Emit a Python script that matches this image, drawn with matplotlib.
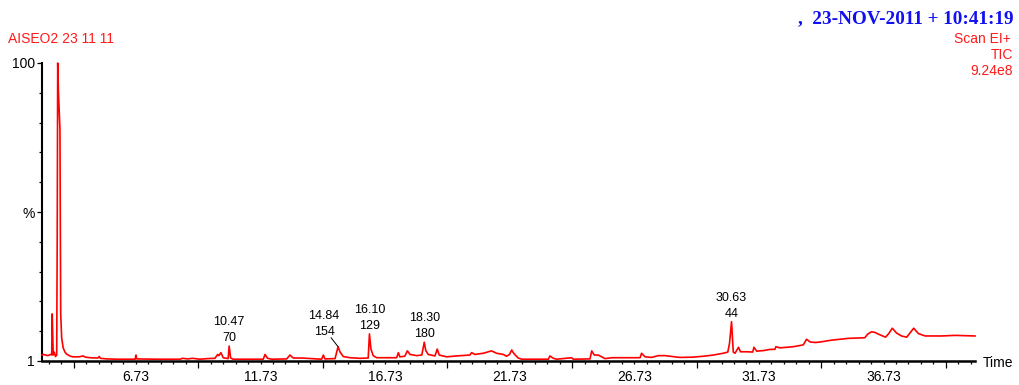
import numpy as np
import matplotlib
matplotlib.use('Agg')
import matplotlib.pyplot as plt

plt.rcParams['font.family'] = ['Liberation Sans', 'DejaVu Sans']

# TIC trace: retention time (min) vs relative abundance (%)
rt = [2.96, 3.01, 3.10, 3.20, 3.30, 3.35, 3.37, 3.39, 3.41, 3.45, 3.50, 3.55, 3.57, 3.59,
      3.62, 3.68, 3.71, 3.75, 3.81, 3.88, 3.95, 4.10, 4.21, 4.45, 4.61, 4.70, 4.88, 5.20,
      5.26, 5.30, 5.55, 6.00, 6.70, 6.73, 6.76, 7.50, 8.50, 8.60, 8.80, 9.00, 9.20, 9.30,
      9.60, 9.90, 10.01, 10.06, 10.14, 10.23, 10.43, 10.47, 10.53, 10.63, 11.84, 11.91,
      12.01, 12.18, 12.78, 12.91, 13.04, 13.38, 14.18, 14.25, 14.31, 14.72, 14.84, 14.92,
      15.05, 15.32, 15.72, 16.05, 16.10, 16.16, 16.25, 16.39, 17.19, 17.26, 17.32, 17.52,
      17.62, 17.73, 17.86, 18.00, 18.20, 18.30, 18.36, 18.46, 18.73, 18.82, 18.90, 19.20,
      19.60, 20.13, 20.20, 20.33, 20.67, 21.00, 21.20, 21.47, 21.60, 21.72, 21.81, 21.87,
      21.95, 22.07, 22.21, 23.28, 23.34, 23.48, 23.61, 24.21, 24.28, 24.95, 25.02, 25.12,
      25.28, 25.42, 25.55, 25.82, 26.96, 27.02, 27.16, 27.42, 27.69, 27.96, 28.16, 28.56,
      29.10, 29.50, 29.90, 30.30, 30.48, 30.55, 30.63, 30.67, 30.70, 30.77, 30.91, 30.99,
      31.24, 31.48, 31.53, 31.64, 31.91, 32.17, 32.37, 32.41, 32.57, 33.11, 33.51, 33.64,
      33.78, 34.00, 34.20, 34.65, 35.32, 35.98, 36.09, 36.25, 36.38, 36.58, 36.81, 36.94,
      37.08, 37.25, 37.45, 37.66, 37.79, 37.94, 38.13, 38.40, 39.06, 39.60, 40.40]
pct = [2.0, 2.2, 2.0, 1.8, 2.2, 2.0, 15.8, 9.0, 2.0, 3.0, 1.5, 2.0, 40.0, 100.0,
       90.0, 78.0, 16.0, 7.7, 4.4, 3.0, 2.3, 1.6, 1.4, 1.4, 1.7, 1.3, 1.1, 1.0,
       1.5, 0.9, 0.7, 0.6, 0.6, 2.0, 0.7, 0.6, 0.6, 0.9, 0.7, 0.9, 0.7, 0.6,
       0.8, 0.9, 2.2, 1.8, 2.8, 1.1, 0.8, 5.0, 1.0, 0.6, 0.6, 2.2,
       0.9, 0.6, 0.7, 2.0, 1.0, 1.0, 0.6, 2.0, 0.7, 0.8, 4.8, 3.0,
       1.5, 1.1, 0.9, 1.0, 9.1, 4.0, 1.8, 1.1, 1.1, 2.8, 1.4, 1.6,
       3.4, 2.2, 2.0, 1.8, 2.0, 6.3, 3.5, 2.2, 1.7, 4.0, 2.0, 1.4,
       1.7, 2.0, 2.8, 2.2, 2.6, 3.4, 2.6, 2.2, 1.6, 2.2, 3.7, 2.8,
       2.0, 1.0, 0.6, 0.6, 1.7, 0.9, 0.6, 1.1, 0.6, 0.7, 3.4, 2.0,
       2.0, 1.4, 0.8, 1.1, 1.1, 2.6, 1.4, 1.2, 1.8, 1.8, 1.6, 1.2,
       1.3, 1.6, 2.0, 2.6, 3.0, 6.0, 13.2, 7.0, 3.0, 2.6, 4.6, 3.1,
       3.1, 3.0, 4.6, 3.3, 3.5, 3.9, 3.9, 4.8, 4.4, 4.8, 5.4, 7.3,
       6.4, 6.2, 6.4, 7.0, 7.6, 7.8, 9.0, 9.8, 9.6, 8.8, 8.0, 9.2,
       11.0, 9.4, 8.4, 8.0, 9.4, 11.0, 9.2, 8.4, 8.4, 8.6, 8.4]

# labelled peaks: retention time, height (%), second label line
peak_rt = [10.47, 14.84, 16.10, 18.30, 30.63]
peak_pct = [5.0, 4.8, 9.1, 6.3, 13.2]
peak_num = ['70', '154', '129', '180', '44']

xtick_labels = ['6.73', '11.73', '16.73', '21.73', '26.73', '31.73', '36.73']

RED = '#ff1a1a'
fig = plt.figure(figsize=(10.19, 3.85), dpi=100)
ax = fig.add_axes([42 / 1019, 1 - 361 / 385, (975 - 42) / 1019, (361 - 63) / 385])

ax.plot(rt, pct, color='red', lw=1.2, clip_on=False, zorder=3)
ax.set_xlim(2.96, 40.40)
ax.set_ylim(0, 100)

for s in ('top', 'right'):
    ax.spines[s].set_visible(False)
ax.spines['left'].set_linewidth(1.5)
ax.spines['bottom'].set_linewidth(1.8)

# x axis: long ticks every 5 min, short every 0.5, labels in between
ax.set_xticks(4.23 + 5 * np.arange(8))
ax.set_xticks(np.arange(3.23, 40.4, 0.5), minor=True)
ax.tick_params(axis='x', which='major', length=5, width=0.9, labelbottom=False)
ax.tick_params(axis='x', which='minor', length=2.5, width=0.9)
for lab in xtick_labels:
    ax.annotate(lab, xy=(float(lab), 0), xycoords=('data', 'axes fraction'),
                xytext=(0, -9), textcoords='offset pixels', ha='center', va='top', fontsize=10)

ax.set_yticks([0, 50, 100])
ax.set_yticklabels(['1', '%', '100'])
ax.set_yticks(np.arange(0, 101, 10), minor=True)
ax.tick_params(axis='y', which='major', length=3.6, width=0.9, pad=1.5, labelsize=10)
ax.tick_params(axis='y', which='minor', length=2.2, width=0.9)

# peak labels
for t, v, n in zip(peak_rt, peak_pct, peak_num):
    dx = -14 if n == '154' else 0
    ax.annotate('%.2f' % t, xy=(t, v), xytext=(dx, 24 if n != '154' else 31),
                textcoords='offset pixels', ha='center', va='center', fontsize=9)
    ax.annotate(n, xy=(t, v), xytext=(dx, 8 if n != '154' else 15),
                textcoords='offset pixels', ha='center', va='center', fontsize=9)
ax.annotate('', xy=(14.84, 4.8), xytext=(-7, 9), textcoords='offset pixels', xycoords='data',
            arrowprops=dict(arrowstyle='-', color='black', lw=0.7, shrinkA=0, shrinkB=0))

fig.text(983 / 1019, 1 - 363 / 385, 'Time', ha='left', va='center', fontsize=10)

fig.text(8 / 1019, 1 - 39 / 385, 'AISEO2 23 11 11', color=RED, ha='left', va='center', fontsize=10)
fig.text(1013 / 1019, 1 - 19 / 385, ',  23-NOV-2011 + 10:41:19', color='#1010f0', ha='right',
         va='center', fontsize=13.8, fontweight='bold', family=['Liberation Serif', 'DejaVu Serif'])
fig.text(1011 / 1019, 1 - 39 / 385, 'Scan EI+', color=RED, ha='right', va='center', fontsize=10)
fig.text(1013 / 1019, 1 - 55 / 385, 'TIC', color=RED, ha='right', va='center', fontsize=10)
fig.text(1013 / 1019, 1 - 71 / 385, '9.24e8', color=RED, ha='right', va='center', fontsize=10)

fig.savefig('out.png', dpi=100, facecolor='white')
